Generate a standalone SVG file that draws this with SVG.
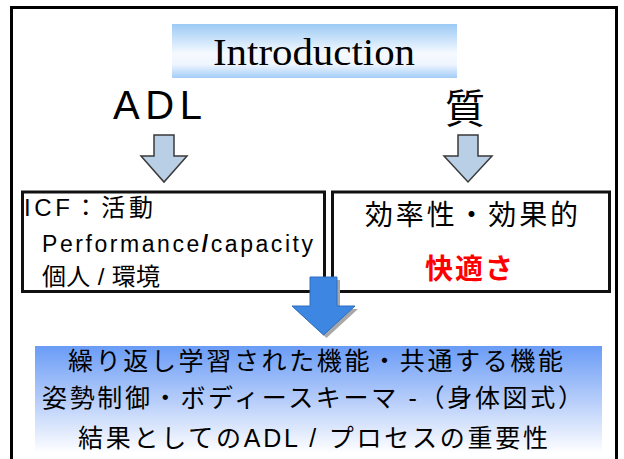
<svg xmlns="http://www.w3.org/2000/svg" width="624" height="459" viewBox="0 0 624 459">
<defs>
<linearGradient id="gTitle" x1="0" y1="0" x2="0" y2="1">
<stop offset="0" stop-color="#9ccaf5"/>
<stop offset="0.55" stop-color="#f6faff"/>
<stop offset="0.75" stop-color="#eef5fe"/>
<stop offset="1" stop-color="#a3cdf7"/>
</linearGradient>
<linearGradient id="gBottom" x1="0" y1="0" x2="0" y2="1">
<stop offset="0" stop-color="#6a9cf6"/>
<stop offset="0.5" stop-color="#b9cffa"/>
<stop offset="0.95" stop-color="#ffffff"/>
</linearGradient>
<style>
.sans{font-family:"Liberation Sans","Noto Sans CJK JP",sans-serif;fill:#000}
.box{fill:#fff;stroke:#111;stroke-width:3}
.larrow{fill:#b9cfe5;stroke:#3a3a3a;stroke-width:1.5;stroke-linejoin:miter}
</style>
</defs>
<rect width="624" height="459" fill="#fff"/>
<rect x="11.5" y="7.5" width="605" height="470" fill="none" stroke="#000" stroke-width="3"/>

<g id="title">
<rect x="172" y="24" width="285" height="54" fill="url(#gTitle)"/>
<text x="314" y="65" text-anchor="middle" font-family="'Liberation Serif',serif" font-size="37" textLength="202" lengthAdjust="spacingAndGlyphs">Introduction</text>
</g>

<g id="adl">
<text class="sans" x="113" y="119" font-size="40" textLength="89" lengthAdjust="spacing">ADL</text>
</g>

<g id="quality">
<text class="sans" x="465" y="123" font-size="40" text-anchor="middle">質</text>
</g>

<g id="icf">
<rect class="box" x="22.5" y="192" width="302" height="99.5"/>
<text class="sans" x="24" y="216" font-size="24" textLength="129" lengthAdjust="spacing">ICF：活動</text>
<text class="sans" x="42" y="252" font-size="23" textLength="271" lengthAdjust="spacing">Performance<tspan font-weight="bold">/</tspan>capacity</text>
<text class="sans" x="42" y="285" font-size="24" textLength="118" lengthAdjust="spacing">個人 / 環境</text>
</g>

<g id="efficiency">
<rect class="box" x="332.5" y="192" width="277" height="99.5"/>
<text class="sans" x="365" y="225" font-size="28" textLength="213" lengthAdjust="spacing">効率性・効果的</text>
<text x="425" y="279" font-family="'Liberation Sans','Noto Sans CJK JP',sans-serif" font-size="28" font-weight="bold" fill="#ff0000" textLength="88" lengthAdjust="spacing">快適さ</text>
</g>

<g id="connectors">
<path class="larrow" d="M154,135 H174 V156 H187 L164,182 L141,156 H154 Z"/>
<path class="larrow" d="M458,135 H478 V156 H492 L468,182 L444,156 H458 Z"/>
<path d="M313,280 H340 V309 H358 L326.5,338 L295,309 H313 Z" fill="#a8a8a8"/>
<path d="M310,277 H337 V306 H355 L323.5,335 L292,306 H310 Z" fill="#3d87e2" stroke="#2e6cc0" stroke-width="1"/>
</g>

<g id="summary">
<rect x="35" y="346" width="567" height="113" fill="url(#gBottom)"/>
<text class="sans" x="68" y="370" font-size="25" textLength="495" lengthAdjust="spacing">繰り返し学習された機能・共通する機能</text>
<text class="sans" x="42" y="407" font-size="25" textLength="541" lengthAdjust="spacing">姿勢制御・ボディースキーマ -（身体図式）</text>
<text class="sans" x="78" y="447" font-size="25" textLength="470" lengthAdjust="spacing">結果としてのADL / プロセスの重要性</text>
</g>
</svg>
